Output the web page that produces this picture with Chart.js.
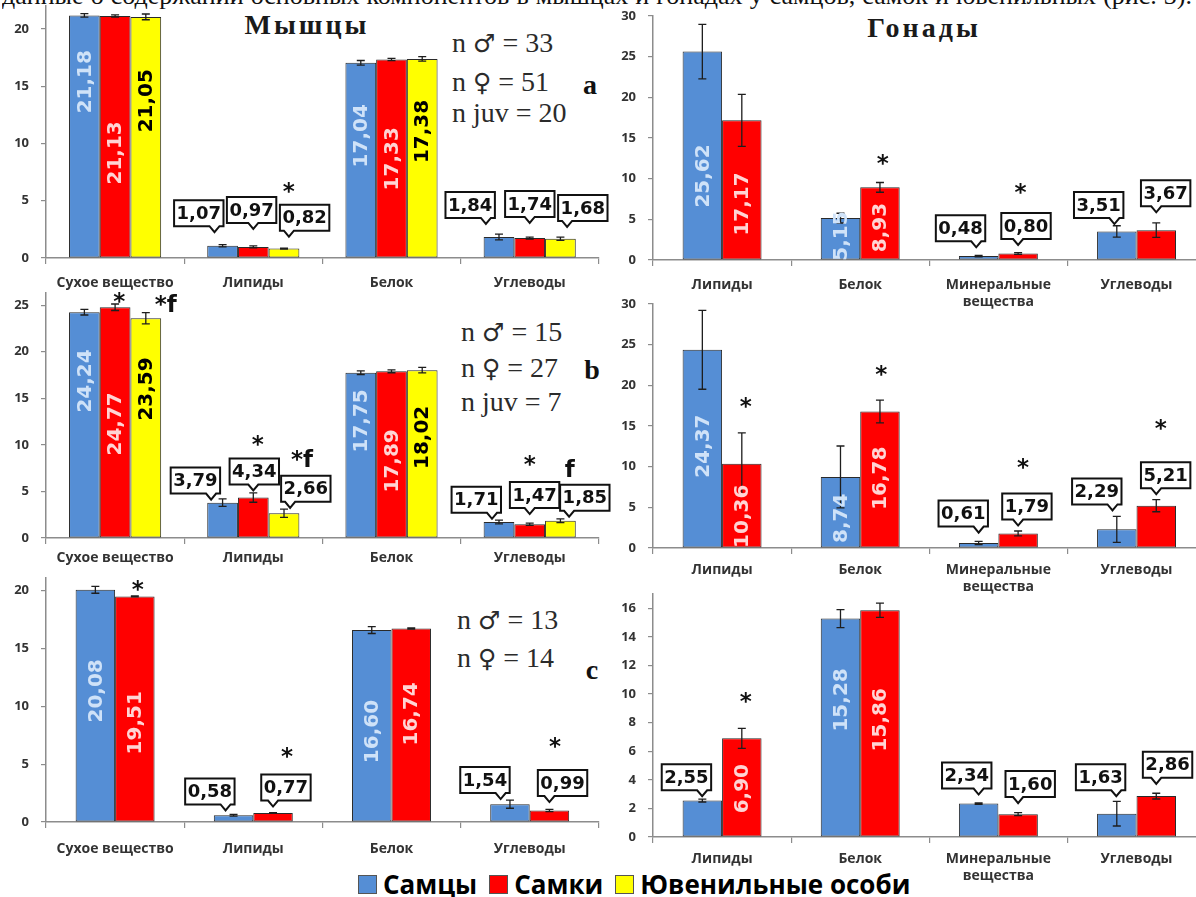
<!DOCTYPE html>
<html lang="ru">
<head>
<meta charset="utf-8">
<title>Мышцы и гонады</title>
<script src="https://cdn.jsdelivr.net/npm/chart.js@4.4.1/dist/chart.umd.min.js"></script>
<style>
  html, body { margin: 0; padding: 0; background: #fff; }
  body { position: relative; width: 1196px; height: 897px; overflow: hidden; }
  canvas { position: absolute; }
  .txt { position: absolute; white-space: nowrap; line-height: 1; transform: translateY(-50%); }
  .serif { font-family: "Liberation Serif", "Times New Roman", serif; color: #2b2b2b; }
  .title { font-weight: bold; font-size: 28px; letter-spacing: 3px; transform: translate(-50%, -50%); color: #1a1a1a; }
  .nline { font-size: 28px; }
  .sym { font-family: "DejaVu Sans", sans-serif; font-size: 25px; }
  .letter { font-weight: bold; font-size: 28px; transform: translate(-50%, -50%); color: #111; }
  #topline { position: absolute; left: 2px; top: -17px; width: 1190px; height: 26px; overflow: hidden;
             font-family: "Liberation Serif", serif; font-size: 26px; line-height: 26px;
             text-align: justify; text-align-last: justify; color: #111; }
  #legend { position: absolute; left: 358px; top: 884px; transform: translateY(-50%); display: flex; align-items: center;
            font-family: "Open Sans", sans-serif; font-weight: bold; font-size: 26px; line-height: 26px; color: #000; white-space: nowrap; }
  #legend i { display: inline-block; width: 17px; height: 17px; border: 1px solid #555; margin-right: 6px; }
  #legend span { margin-right: 12px; }
</style>
</head>
<body>

<div id="topline">данные о содержании основных компонентов в мышцах и гонадах у самцов, самок и ювенильных (рис. 3).</div>

<div class="txt serif title" style="left:307px; top:25px;">Мышцы</div>
<div class="txt serif title" style="left:924px; top:28px;">Гонады</div>

<div class="txt serif nline" style="left:452px; top:43px;">n <span class="sym">♂</span> = 33</div>
<div class="txt serif nline" style="left:452px; top:82px;">n <span class="sym">♀</span> = 51</div>
<div class="txt serif nline" style="left:452px; top:113px;">n juv = 20</div>
<div class="txt serif letter" style="left:590px; top:85px;">a</div>

<div class="txt serif nline" style="left:461px; top:332px;">n <span class="sym">♂</span> = 15</div>
<div class="txt serif nline" style="left:461px; top:368px;">n <span class="sym">♀</span> = 27</div>
<div class="txt serif nline" style="left:461px; top:402px;">n juv = 7</div>
<div class="txt serif letter" style="left:592px; top:370px;">b</div>

<div class="txt serif nline" style="left:457px; top:620px;">n <span class="sym">♂</span> = 13</div>
<div class="txt serif nline" style="left:457px; top:658px;">n <span class="sym">♀</span> = 14</div>
<div class="txt serif letter" style="left:592px; top:670px;">c</div>

<div id="legend">
  <i style="background:#558ed5"></i><span>Самцы</span>
  <i style="background:#ff0000"></i><span>Самки</span>
  <i style="background:#ffff00"></i><span>Ювенильные особи</span>
</div>

<script>
// ================= DATA =================
const muscleCats = ["Сухое вещество", "Липиды", "Белок", "Углеводы"];
const gonadCats = ["Липиды", "Белок", ["Минеральные", "вещества"], "Углеводы"];
const seriesNames = ["Самцы", "Самки", "Ювенильные особи"];

// мышцы, a
const musA_males = [21.18, 1.07, 17.04, 1.84];
const musA_females = [21.13, 0.97, 17.33, 1.74];
const musA_juv = [21.05, 0.82, 17.38, 1.68];
const musA_err = [[0.15, 0.1, 0.2, 0.25], [0.1, 0.08, 0.1, 0.08], [0.25, 0.05, 0.2, 0.15]];
const musA_ticks = [0, 5, 10, 15, 20];

// мышцы, b
const musB_males = [24.24, 3.79, 17.75, 1.71];
const musB_females = [24.77, 4.34, 17.89, 1.47];
const musB_juv = [23.59, 2.66, 18.02, 1.85];
const musB_err = [[0.3, 0.4, 0.2, 0.2], [0.35, 0.5, 0.15, 0.12], [0.6, 0.45, 0.3, 0.2]];
const musB_ticks = [0, 5, 10, 15, 20, 25];

// мышцы, c
const musC_males = [20.08, 0.58, 16.60, 1.54];
const musC_females = [19.51, 0.77, 16.74, 0.99];
const musC_err = [[0.3, 0.08, 0.3, 0.35], [0.05, 0.03, 0.05, 0.1]];
const musC_ticks = [0, 5, 10, 15, 20];

// гонады, a
const gonA_males = [25.62, 5.15, 0.48, 3.51];
const gonA_females = [17.17, 8.93, 0.80, 3.67];
const gonA_err = [[3.35, 0.6, 0.08, 0.7], [3.2, 0.6, 0.1, 0.9]];
const gonA_ticks = [0, 5, 10, 15, 20, 25, 30];

// гонады, b
const gonB_males = [24.37, 8.74, 0.61, 2.29];
const gonB_females = [10.36, 16.78, 1.79, 5.21];
const gonB_err = [[4.85, 3.8, 0.2, 1.6], [3.8, 1.4, 0.3, 0.75]];
const gonB_ticks = [0, 5, 10, 15, 20, 25, 30];

// гонады, c
const gonC_males = [2.55, 15.28, 2.34, 1.63];
const gonC_females = [6.90, 15.86, 1.60, 2.86];
const gonC_err = [[0.1, 0.63, 0.05, 0.86], [0.7, 0.5, 0.1, 0.2]];
const gonC_ticks = [0, 2, 4, 6, 8, 10, 12, 14, 16];

// ================= LABEL LAYOUT =================
// ["in", y] = vertical text inside bar, centred at y;  ["box", y, dx] = callout box
const musA_lab = [
  [["in", 15.39], ["box", 3.91, -23.8], ["in", 10.67], ["box", 4.63, -28.8]],
  [["in", 9.18], ["box", 4.20, -1.7], ["in", 8.66], ["box", 4.72, 0.1]],
  [["in", 13.73], ["box", 3.52, 20.6], ["in", 11.05], ["box", 4.37, 22.4]]
];
const musB_lab = [
  [["in", 16.86], ["box", 6.16, -27.2], ["in", 12.57], ["box", 4.10, -22.7]],
  [["in", 12.25], ["box", 7.14, 1.0], ["in", 8.28], ["box", 4.61, 4.9]],
  [["in", 16.0], ["box", 5.28, 21.8], ["in", 10.8], ["box", 4.32, 24.4]]
];
const musC_lab = [
  [["in", 11.34], ["box", 2.64, -23.7], ["in", 7.82], ["box", 3.63, -25]],
  [["in", 8.58], ["box", 2.98, 12.9], ["in", 9.35], ["box", 3.37, 13.1]]
];
const gonA_lab = [
  [["in", 10.33], ["in", 2.95], ["box", 3.90, -18.1], ["box", 6.76, -18.1]],
  [["in", 6.89], ["in", 4.0], ["box", 4.18, 7.9], ["box", 8.20, 9.4]]
];
const gonB_lab = [
  [["in", 12.52], ["in", 3.66], ["box", 4.23, -15.4], ["box", 6.96, -20]],
  [["in", 3.90], ["in", 8.58], ["box", 5.10, 8.8], ["box", 8.95, 9.4]]
];
const gonC_lab = [
  [["box", 4.18, -15.9], ["in", 9.59], ["box", 4.30, -11.9], ["box", 4.18, -16.2]],
  [["in", 3.38], ["in", 8.20], ["box", 3.70, 12.1], ["box", 5.05, 11.3]]
];

// significance marks: [series, category, text, y, dx]
const musA_marks = [[2, 1, "*", 6.21, 4.8]];
const musB_marks = [[1, 0, "*", 25.89, 4.2], [2, 0, "*f", 25.2, 20], [1, 1, "*", 10.53, 4.5],
                    [2, 1, "*f", 8.6, 18], [1, 3, "*", 8.39, 0], [2, 3, "f", 7.53, 9.4]];
const musC_marks = [[1, 0, "*", 20.49, 3], [1, 1, "*", 6.10, 14], [1, 3, "*", 6.96, 5.5]];
const gonA_marks = [[1, 1, "*", 12.5, 2.7], [1, 2, "*", 8.82, 2.3]];
const gonB_marks = [[1, 0, "*", 17.97, 3.9], [1, 1, "*", 21.88, 1.4], [1, 2, "*", 10.46, 5], [1, 3, "*", 15.23, 4.6]];
const gonC_marks = [[1, 0, "*", 9.83, 3.9]];

// ================= STYLE =================
const barColors = ["#558ed5", "#ff0000", "#ffff00"];
const inTextColors = ["#cfe2f8", "#ffd4d4", "#000000"];
const AXIS_W = 46, X_H = 60, PAD_TOP = 24;
const axisGray = "#8c8c8c";
const sans = '"Open Sans", "DejaVu Sans", sans-serif';

const panels = [
  { cats: muscleCats, series: [musA_males, musA_females, musA_juv], err: musA_err, lab: musA_lab, marks: musA_marks, ticks: musA_ticks,
    plotLeft: 46, plotRight: 598.8, zero: 258, ppu: 11.435, max: 22, labelPad: 11, padRight: 14 },
  { cats: muscleCats, series: [musB_males, musB_females, musB_juv], err: musB_err, lab: musB_lab, marks: musB_marks, ticks: musB_ticks,
    plotLeft: 46, plotRight: 598.8, zero: 538.3, ppu: 9.332, max: 26.3, labelPad: 6, padRight: 14 },
  { cats: muscleCats, series: [musC_males, musC_females], err: musC_err, lab: musC_lab, marks: musC_marks, ticks: musC_ticks,
    plotLeft: 46, plotRight: 598.8, zero: 822.3, ppu: 11.58, max: 21.1, labelPad: 13, padRight: 14 },
  { cats: gonadCats, series: [gonA_males, gonA_females], err: gonA_err, lab: gonA_lab, marks: gonA_marks, ticks: gonA_ticks,
    plotLeft: 652.6, plotRight: 1205.2, zero: 260, ppu: 8.133, max: 30, labelPad: 11, padRight: 0 },
  { cats: gonadCats, series: [gonB_males, gonB_females], err: gonB_err, lab: gonB_lab, marks: gonB_marks, ticks: gonB_ticks,
    plotLeft: 652.6, plotRight: 1205.2, zero: 547.7, ppu: 8.123, max: 30, labelPad: 8, padRight: 0 },
  { cats: gonadCats, series: [gonC_males, gonC_females], err: gonC_err, lab: gonC_lab, marks: gonC_marks, ticks: gonC_ticks,
    plotLeft: 652.6, plotRight: 1205.2, zero: 837.3, ppu: 14.31, max: 17, labelPad: 8, padRight: 0 }
];

const fmt = v => v.toFixed(2).replace(".", ",");

// ================= OVERLAY PLUGIN =================
function overlay(p) {
  return {
    id: "overlay",
    afterDatasetsDraw(chart) {
      const ctx = chart.ctx;
      const y = chart.scales.y;
      const area = chart.chartArea;
      const metas = chart.data.datasets.map((d, i) => chart.getDatasetMeta(i));

      // error bars
      ctx.save();
      ctx.strokeStyle = "#1e1e1e";
      ctx.lineWidth = 1.3;
      chart.data.datasets.forEach((ds, si) => {
        metas[si].data.forEach((bar, ci) => {
          const v = ds.data[ci], e = p.err[si][ci];
          const y1 = y.getPixelForValue(v + e), y2 = y.getPixelForValue(v - e);
          ctx.beginPath();
          ctx.moveTo(bar.x, y1); ctx.lineTo(bar.x, y2);
          ctx.moveTo(bar.x - 4, y1); ctx.lineTo(bar.x + 4, y1);
          ctx.moveTo(bar.x - 4, y2); ctx.lineTo(bar.x + 4, y2);
          ctx.stroke();
        });
      });
      ctx.restore();

      // value labels
      chart.data.datasets.forEach((ds, si) => {
        metas[si].data.forEach((bar, ci) => {
          const spec = p.lab[si][ci];
          const text = fmt(ds.data[ci]);
          const cy = y.getPixelForValue(spec[1]);
          if (spec[0] === "in") {
            ctx.save();
            ctx.beginPath();
            ctx.rect(area.left, area.top, area.right - area.left, area.bottom - area.top);
            ctx.clip();
            ctx.translate(bar.x + 1, cy);
            ctx.rotate(-Math.PI / 2);
            ctx.font = 'bold 20px "DejaVu Sans"';
            ctx.fillStyle = inTextColors[si];
            ctx.textAlign = "center";
            ctx.textBaseline = "middle";
            ctx.fillText(text, 0, 0);
            ctx.restore();
          } else {
            ctx.save();
            ctx.font = 'bold 18px "DejaVu Sans"';
            const w = ctx.measureText(text).width + 5;
            const h = 26;
            const cx = bar.x + spec[2];
            const L = cx - w / 2, R = cx + w / 2, T = cy - h / 2, B = cy + h / 2;
            const px = Math.min(Math.max(bar.x, L + 9), R - 9);
            ctx.beginPath();
            ctx.moveTo(L, T); ctx.lineTo(R, T); ctx.lineTo(R, B);
            ctx.lineTo(px + 5, B); ctx.lineTo(px, B + 6); ctx.lineTo(px - 5, B);
            ctx.lineTo(L, B); ctx.closePath();
            ctx.fillStyle = "#fff";
            ctx.fill();
            ctx.lineWidth = 2;
            ctx.strokeStyle = "#111";
            ctx.stroke();
            ctx.fillStyle = "#111";
            ctx.textAlign = "center";
            ctx.textBaseline = "middle";
            ctx.fillText(text, cx, cy + 1);
            ctx.restore();
          }
        });
      });

      // significance marks
      ctx.save();
      ctx.font = 'bold 23px "DejaVu Sans"';
      ctx.fillStyle = "#111";
      ctx.textAlign = "center";
      ctx.textBaseline = "alphabetic";
      p.marks.forEach(([si, ci, text, v, dx]) => {
        const bar = metas[si].data[ci];
        const shift = text === "*" ? 0.53 : 0.38;
        ctx.fillText(text, bar.x + dx, y.getPixelForValue(v) + shift * 23);
      });
      ctx.restore();
    }
  };
}

// ================= CHARTS =================
function makePanel(p) {
  const plotTop = p.zero - p.max * p.ppu;
  const left = p.plotLeft - AXIS_W;
  const top = plotTop - PAD_TOP;
  const width = p.plotRight - left + p.padRight;
  const height = p.zero + X_H - top;

  const canvas = document.createElement("canvas");
  canvas.width = Math.round(width);
  canvas.height = Math.round(height);
  canvas.style.left = left + "px";
  canvas.style.top = top + "px";
  document.body.appendChild(canvas);

  const catPct = p.series.length === 3 ? 0.6667 : 0.5714;

  new Chart(canvas, {
    type: "bar",
    data: {
      labels: p.cats,
      datasets: p.series.map((d, i) => ({
        label: seriesNames[i],
        data: d,
        backgroundColor: barColors[i],
        borderColor: "#2a2a2a",
        borderWidth: 1,
        borderSkipped: false,
        categoryPercentage: catPct,
        barPercentage: 1
      }))
    },
    options: {
      responsive: false,
      animation: false,
      devicePixelRatio: 1,
      events: [],
      layout: {
        autoPadding: false,
        padding: { top: PAD_TOP, right: canvas.width - (p.plotRight - left), left: 0, bottom: 0 }
      },
      plugins: { legend: { display: false }, tooltip: { enabled: false } },
      scales: {
        x: {
          offset: true,
          grid: { offset: true, drawOnChartArea: false, drawTicks: true, tickLength: 6, color: axisGray, lineWidth: 1.2 },
          border: { color: axisGray, width: 1.5 },
          ticks: {
            font: { family: sans, weight: "bold", size: 14 },
            color: "#333",
            padding: p.labelPad,
            maxRotation: 0,
            autoSkip: false
          },
          afterFit(s) { s.height = X_H; s.paddingLeft = 0; s.paddingRight = 0; }
        },
        y: {
          min: 0,
          max: p.max,
          ticks: {
            font: { family: sans, weight: "bold", size: 13 },
            color: "#333",
            padding: 12
          },
          grid: { drawOnChartArea: false, drawTicks: true, tickLength: 5, color: axisGray, lineWidth: 1.2 },
          border: { color: axisGray, width: 1.5 },
          afterBuildTicks(s) { s.ticks = p.ticks.map(v => ({ value: v })); },
          afterFit(s) { s.width = AXIS_W; s.paddingTop = 0; s.paddingBottom = 0; }
        }
      }
    },
    plugins: [overlay(p)]
  });
}

// ================= INIT =================
panels.forEach(makePanel);
</script>
</body>
</html>
